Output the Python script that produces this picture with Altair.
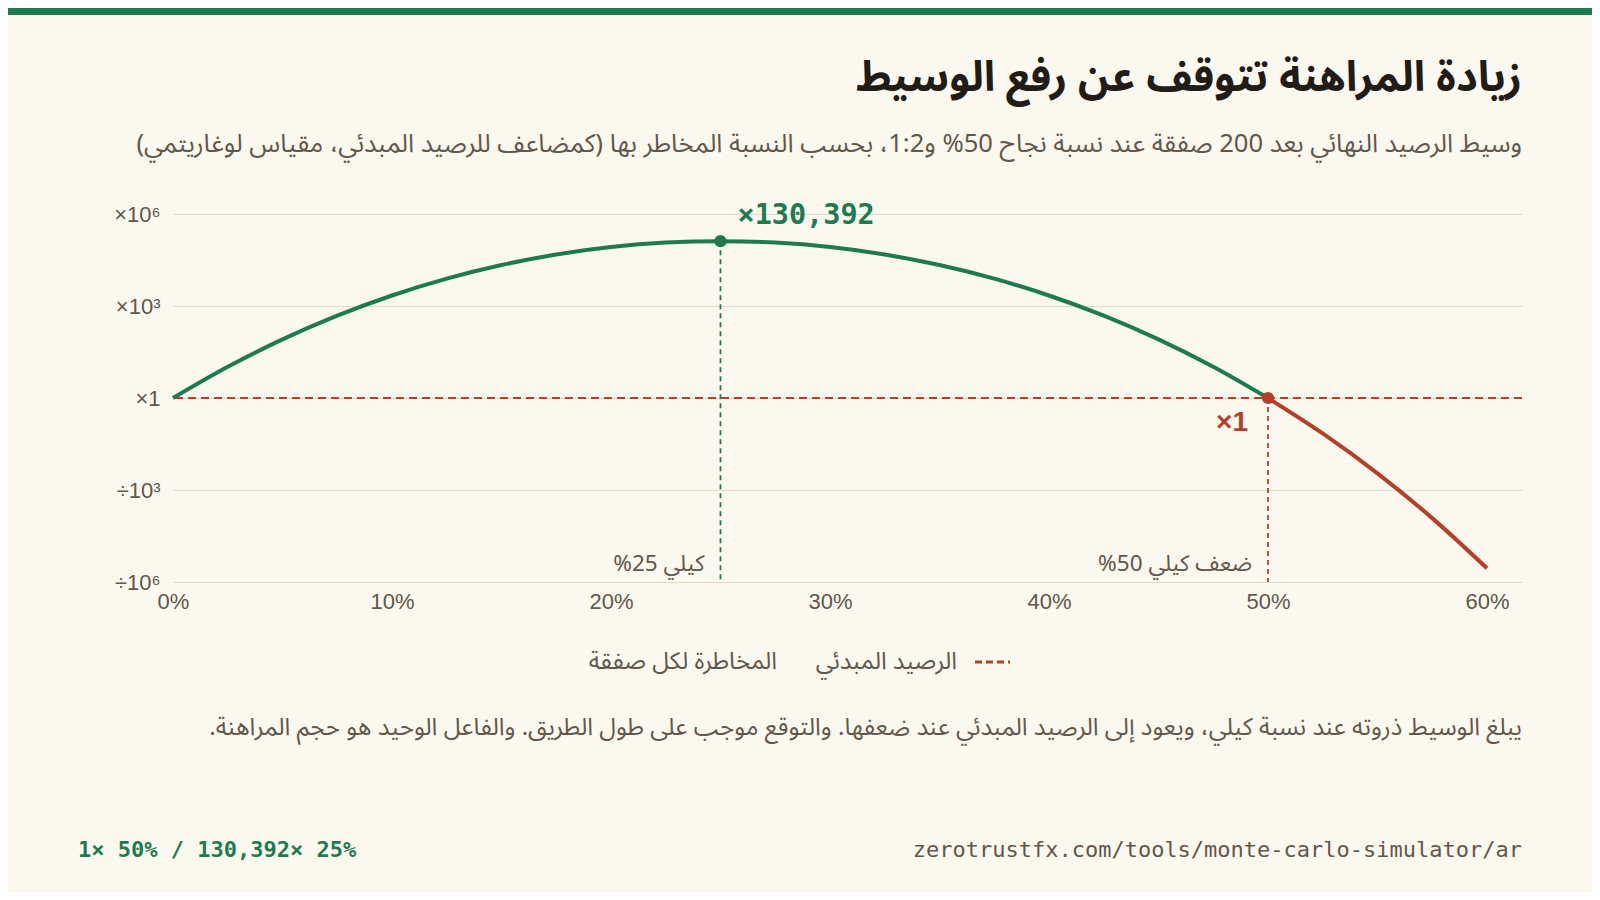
import altair as alt
import pandas as pd

# palette / fonts
GREEN = "#1e7b4f"
RED = "#b4402a"
INK = "#221c16"
MUTED = "#62574b"
GRID = "#e3dac8"
BG = "#fbf8f0"
AR_FONT = "Noto Sans Arabic, Noto Naskh Arabic, DejaVu Sans, sans-serif"
LAT_FONT = "Liberation Sans, Arial, sans-serif"
MONO_FONT = "DejaVu Sans Mono, Liberation Mono, monospace"

W, H = 1349, 368

# median final balance (log10 of multiple of starting balance) by risk per trade
green_risk = [0.0, 0.025, 0.05, 0.075, 0.1, 0.125, 0.15, 0.175, 0.2, 0.225, 0.25,
              0.275, 0.3, 0.325, 0.35, 0.375, 0.4, 0.425, 0.45, 0.475, 0.5]
green_log10 = [0.0, 1.019, 1.912, 2.684, 3.342, 3.892, 4.336, 4.679, 4.922, 5.067, 5.115,
               5.067, 4.922, 4.679, 4.336, 3.892, 3.342, 2.684, 1.912, 1.019, 0.0]
red_risk = [0.5, 0.525, 0.55, 0.575, 0.6]
red_log10 = [0.0, -1.155, -2.457, -3.917, -5.552]

x_ticks = [0.0, 0.1, 0.2, 0.3, 0.4, 0.5, 0.6]
y_ticks = [6, 3, 0, -3, -6]
y_tick_labels = ["×10⁶", "×10³", "×1", "÷10³", "÷10⁶"]

peak_risk, peak_log10, peak_label = 0.25, 5.115, "×130,392"
even_risk, even_log10, even_label = 0.5, 0.0, "×1"
kelly_labels = ["كيلي 25%", "ضعف كيلي 50%"]


def rtl(s):
    return "\u202b" + s + "\u202c"


title = "زيادة المراهنة تتوقف عن رفع الوسيط"
subtitle = ("وسيط الرصيد النهائي بعد 200 صفقة عند نسبة نجاح 50% و1:2، بحسب النسبة المخاطر بها "
            "(كمضاعف للرصيد المبدئي، مقياس لوغاريتمي)")
x_title = "المخاطرة لكل صفقة"
legend_label = "الرصيد المبدئي"
footnote = ("يبلغ الوسيط ذروته عند نسبة كيلي، ويعود إلى الرصيد المبدئي عند ضعفها. "
            "والتوقع موجب على طول الطريق. والفاعل الوحيد هو حجم المراهنة.")
footer_left = "1× 50% / 130,392× 25%"
footer_right = "zerotrustfx.com/tools/monte-carlo-simulator/ar"

x_scale = alt.Scale(domain=[0, 0.616], nice=False, zero=False)
y_scale = alt.Scale(domain=[-6, 6], nice=False, zero=False)

label_expr = " : ".join(
    f"datum.value == {v} ? '{t}'" for v, t in zip(y_ticks, y_tick_labels)
) + " : ''"

x_enc = alt.X(
    "risk:Q",
    scale=x_scale,
    axis=alt.Axis(
        values=x_ticks, format=".0%", title=None, grid=False, domain=False, ticks=False,
        labelFlush=False, labelPadding=9, labelFontSize=22, labelColor=MUTED, labelFont=LAT_FONT,
    ),
)
y_enc = alt.Y(
    "log10:Q",
    scale=y_scale,
    axis=alt.Axis(
        values=y_ticks, labelExpr=label_expr, title=None, grid=True, gridColor=GRID,
        gridWidth=1.2, domain=False, ticks=False, labelPadding=13, labelFontSize=22,
        labelColor=MUTED, labelFont=LAT_FONT,
    ),
)

green_df = pd.DataFrame({"risk": green_risk, "log10": green_log10})
red_df = pd.DataFrame({"risk": red_risk, "log10": red_log10})

green_line = alt.Chart(green_df).mark_line(color=GREEN, strokeWidth=4, interpolate="monotone").encode(x=x_enc, y=y_enc)
red_line = alt.Chart(red_df).mark_line(color=RED, strokeWidth=4, interpolate="monotone").encode(x="risk:Q", y="log10:Q")

baseline = alt.Chart(pd.DataFrame({"log10": [even_log10]})).mark_rule(
    color=RED, strokeWidth=2.2, strokeDash=[8, 5]
).encode(y="log10:Q")

peak_df = pd.DataFrame({"risk": [peak_risk], "log10": [peak_log10], "bottom": [y_ticks[-1]],
                        "t": [peak_label], "k": [rtl(kelly_labels[0])]})
even_df = pd.DataFrame({"risk": [even_risk], "log10": [even_log10], "bottom": [y_ticks[-1]],
                        "t": [even_label], "k": [rtl(kelly_labels[1])]})

peak_rule = alt.Chart(peak_df).mark_rule(color=GREEN, strokeWidth=1.8, strokeDash=[5, 4]).encode(
    x="risk:Q", y="log10:Q", y2="bottom:Q")
even_rule = alt.Chart(even_df).mark_rule(color=RED, strokeWidth=1.8, strokeDash=[5, 4]).encode(
    x="risk:Q", y="log10:Q", y2="bottom:Q")

peak_pt = alt.Chart(peak_df).mark_circle(color=GREEN, size=150, opacity=1).encode(x="risk:Q", y="log10:Q")
even_pt = alt.Chart(even_df).mark_circle(color=RED, size=150, opacity=1).encode(x="risk:Q", y="log10:Q")

peak_txt = alt.Chart(peak_df).mark_text(
    align="left", baseline="middle", dx=17, dy=-26, fontSize=28.5, fontWeight="bold",
    font=MONO_FONT, color=GREEN,
).encode(x="risk:Q", y="log10:Q", text="t:N")
even_txt = alt.Chart(even_df).mark_text(
    align="right", baseline="middle", dx=-20, dy=25, fontSize=28, fontWeight="bold",
    font=LAT_FONT, color=RED,
).encode(x="risk:Q", y="log10:Q", text="t:N")

kelly_txt = alt.layer(
    *[
        alt.Chart(d).mark_text(
            align="right", baseline="middle", dx=-16, fontSize=22.5, font=AR_FONT, color=MUTED,
        ).encode(x="risk:Q", y=alt.value(350), text="k:N")
        for d in (peak_df, even_df)
    ]
)


def label(text, x, y, size, color, font=AR_FONT, weight="normal", align="right"):
    return alt.Chart(pd.DataFrame({"t": [text]})).mark_text(
        align=align, baseline="middle", fontSize=size, color=color, font=font, fontWeight=weight,
    ).encode(x=alt.value(x), y=alt.value(y), text="t:N")


top_bar = alt.Chart(pd.DataFrame({"a": [0]})).mark_rect(color=GREEN).encode(
    x=alt.value(-165), x2=alt.value(1419), y=alt.value(-206), y2=alt.value(-199))
legend_dash = alt.Chart(pd.DataFrame({"a": [0]})).mark_rule(
    color=RED, strokeWidth=3, strokeDash=[7, 4]).encode(
    x=alt.value(802), x2=alt.value(837), y=alt.value(448))

texts = [
    label(rtl(title), W, -136, 42, INK, weight="bold"),
    label(rtl(subtitle), W, -70, 25.6, MUTED),
    label(rtl(legend_label), 784, 448, 24, MUTED),
    label(rtl(x_title), 604, 448, 24, MUTED),
    label(rtl(footnote), W, 514, 24.2, MUTED),
    label(footer_left, -95, 636, 22, GREEN, font=MONO_FONT, weight="bold", align="left"),
    label(footer_right, W, 636, 22, MUTED, font=MONO_FONT),
]

chart = (
    alt.layer(
        green_line, red_line, baseline, peak_rule, even_rule, peak_pt, even_pt,
        peak_txt, even_txt, kelly_txt, top_bar, legend_dash, *texts,
    )
    .properties(
        width=W,
        height=H,
        autosize=alt.AutoSizeParams(type="none"),
        padding={"left": 165, "top": 206, "right": 70, "bottom": 310},
    )
    .configure(background=BG)
    .configure_view(strokeWidth=0)
)

chart.save("out.html", embed_options={"renderer": "svg", "actions": False})
